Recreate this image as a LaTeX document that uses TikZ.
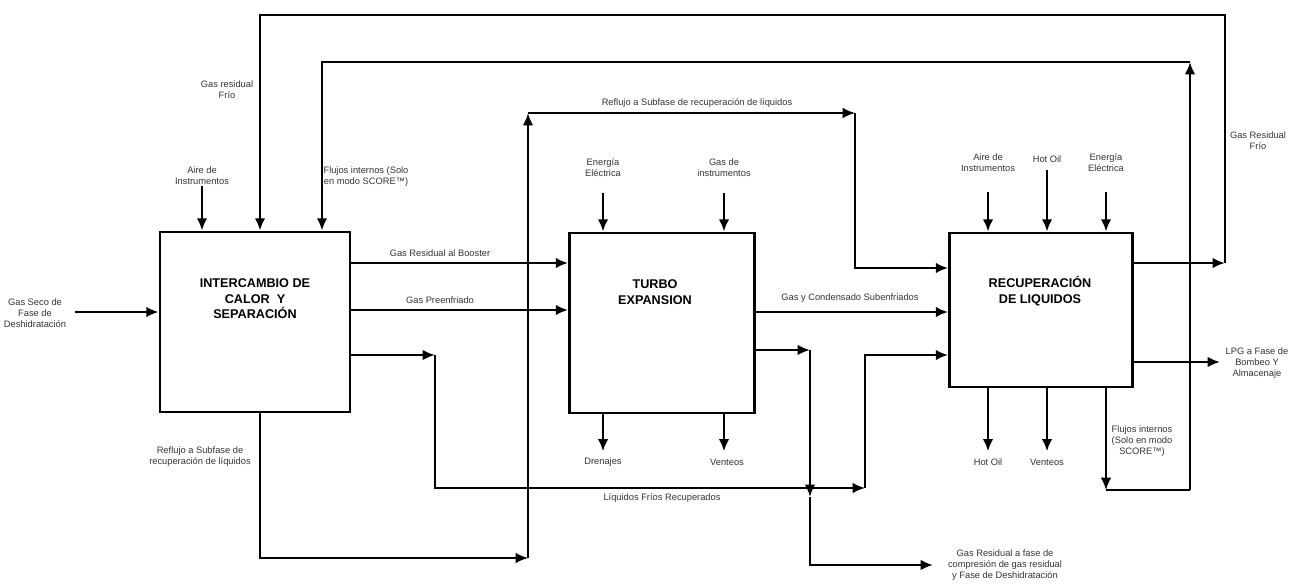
\documentclass[tikz,border=0pt]{standalone}
\usepackage{fontspec}
\setmainfont{Liberation Sans}
\usetikzlibrary{arrows.meta,positioning}

\begin{document}
\begin{tikzpicture}[x=0.02cm,y=-0.02cm,
  proc/.style={draw, line width=1.6pt, minimum width=3.7cm, minimum height=3.1cm, inner sep=0pt},
  title/.style={font=\fontsize{7.2}{8.8}\selectfont\bfseries, align=center},
  lbl/.style={font=\fontsize{5.3}{6.2}\selectfont, align=center, text=black!80},
  flow/.style={line width=1.6pt, -{Latex[length=7pt,width=6pt]}},
  thinflow/.style={line width=1pt, -{Latex[length=7pt,width=6pt]}},
  pipe/.style={line width=1.6pt},
  thinpipe/.style={line width=1pt}]
\useasboundingbox (0,0) rectangle (1293,584);

% Process blocks
\node[proc, minimum width=3.8cm, minimum height=3.6cm] (b1) at (255,322) {};
\node[proc, minimum width=3.7cm, minimum height=3.6cm] (b2) at (662,323) {};
\node[proc, minimum width=3.66cm, minimum height=3.08cm] (b3) at (1041,310) {};
\node[title] (t1) at (255,299) {INTERCAMBIO DE\\CALOR \ Y\\SEPARACIÓN};
\node[title] (t2) at (655,292) {TURBO\\EXPANSION};
\node[title] (t3) at (1040,291) {RECUPERACIÓN\\DE LIQUIDOS};

% Labels
\node[lbl] (lin) at (35,313) {Gas Seco de\\Fase de\\Deshidratación};
\node[lbl] (lfrio1) at (227,90) {Gas residual\\Frío};
\node[lbl] (laire1) at (202,176) {Aire de\\Instrumentos};
\node[lbl] (lflu1) at (366,177) {Flujos internos (Solo\\en modo SCORE™)};
\node[lbl] (lref1) at (697,103) {Reflujo a Subfase de recuperación de líquidos};
\node[lbl] (lene2) at (603,168) {Energía\\Eléctrica};
\node[lbl] (lgas2) at (724,168) {Gas de\\instrumentos};
\node[lbl] (lboo) at (440,253) {Gas Residual al Booster};
\node[lbl] (lpre) at (440,300) {Gas Preenfriado};
\node[lbl] (lcon) at (850,298) {Gas y Condensado Subenfriados};
\node[lbl] (laire3) at (988,163) {Aire de\\Instrumentos};
\node[lbl] (lhot3) at (1047,159) {Hot Oil};
\node[lbl] (lene3) at (1106,163) {Energía\\Eléctrica};
\node[lbl] (lfrio3) at (1258,141) {Gas Residual\\Frío};
\node[lbl] (llpg) at (1257,363) {LPG a Fase de\\Bombeo Y\\Almacenaje};
\node[lbl] (lflu3) at (1142,441) {Flujos internos\\(Solo en modo\\SCORE™)};
\node[lbl] (ldre) at (603,462) {Drenajes};
\node[lbl] (lven2) at (727,462) {Venteos};
\node[lbl] (lhot4) at (988,462) {Hot Oil};
\node[lbl] (lven3) at (1047,462) {Venteos};
\node[lbl] (lliq) at (662,498) {Líquidos Fríos Recuperados};
\node[lbl] (lref2) at (200,457) {Reflujo a Subfase de\\recuperación de líquidos};
\node[lbl] (lres) at (1005,565) {Gas Residual a fase de\\compresión de gas residual\\y Fase de Deshidratación};

% Corner points
\coordinate (in0) at (75,312);
\coordinate (a1) at (202,186);
\coordinate (e2) at (603,193);
\coordinate (g2) at (724,193);
\coordinate (a3) at (988,192);
\coordinate (h3) at (1047,170);
\coordinate (n3) at (1106,192);
\coordinate (loopA) at (1225,263);
\coordinate (loopAtop) at (1225,15);
\coordinate (loopB) at (1190,490);
\coordinate (loopBtop) at (1190,62);
\coordinate (refup) at (528,558);
\coordinate (reftop) at (528,113);
\coordinate (refright) at (855,113);
\coordinate (liqa) at (435,355);
\coordinate (liqb) at (865,488);
\coordinate (resa) at (810,350);
\coordinate (resb) at (810,497);
\coordinate (resend) at (933,565);
\coordinate (lpgend) at (1220,362);
\coordinate (fluend) at (1106,490);

% Inputs from above
\draw[flow] (in0) -- (b1.west |- in0);
\draw[flow] (a1) -- (a1 |- b1.north);
\draw[flow] (e2) -- (e2 |- b2.north);
\draw[flow] (g2) -- (g2 |- b2.north);
\draw[flow] (a3) -- (a3 |- b3.north);
\draw[flow] (h3) -- (h3 |- b3.north);
\draw[flow] (n3) -- (n3 |- b3.north);

% Outputs below
\draw[flow] (b2.south -| e2) -- ++(0,37);
\draw[flow] (b2.south -| g2) -- ++(0,37);
\draw[flow] (b3.south -| a3) -- ++(0,63);
\draw[flow] (b3.south -| h3) -- ++(0,63);

% Main streams
\draw[flow] (b1.east |- 0,263) -- (b2.west |- 0,263);
\draw[flow] (b1.east |- 0,310) -- (b2.west |- 0,310);
\draw[flow] (b2.east |- 0,312) -- (b3.west |- 0,312);
\draw[flow] (b3.east |- lpgend) -- (lpgend);

% Gas residual frio loop
\draw[flow] (b3.east |- loopA) -- (loopA);
\draw[flow] (loopA) -- (loopAtop) -| (b1.north -| 260,0);

% Flujos internos loop
\draw[thinflow] (b3.south -| fluend) -- (fluend);
\draw[thinpipe] (fluend) -- (loopB);
\draw[flow] (loopB) -- (loopBtop);
\draw[flow] (loopBtop) -| (b1.north -| 322,0);

% Reflujo loop
\draw[thinflow] (b1.south -| 260,0) |- (refup);
\draw[flow] (refup) -- (reftop);
\draw[thinflow] (reftop) -- (refright);
\draw[flow] (refright) |- (b3.west |- 0,268);

% Liquidos frios
\draw[flow] (b1.east |- liqa) -- (liqa);
\draw[thinflow] (liqa) |- (liqb);
\draw[flow] (liqb) |- (b3.west |- 0,355);

% Gas residual a compresion
\draw[flow] (b2.east |- resa) -- (resa);
\draw[flow] (resa) -- (resb);
\draw[flow] (resb) |- (resend);
\end{tikzpicture}
\end{document}
